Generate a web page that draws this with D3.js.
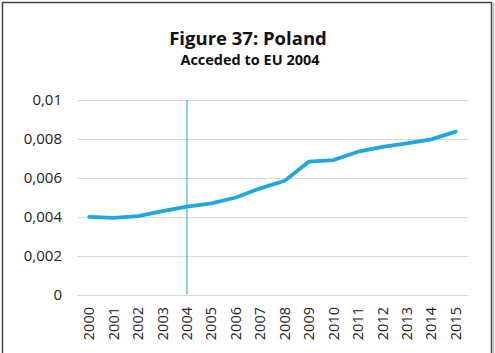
<!DOCTYPE html>
<html>
<head>
<meta charset="utf-8">
<script src="https://cdn.jsdelivr.net/npm/d3@7"></script>
<style>
  body { margin: 0; background: #fff; }
  svg { display: block; }
</style>
</head>
<body>
<svg id="chart" width="495" height="353"></svg>
<script>
// data
var years = ["2000","2001","2002","2003","2004","2005","2006","2007","2008","2009","2010","2011","2012","2013","2014","2015"];
var values = [0.00401, 0.00396, 0.00405, 0.0043, 0.00453, 0.0047, 0.005, 0.00547, 0.00586, 0.00684, 0.00692, 0.00735, 0.0076, 0.00778, 0.00798, 0.00838];
var yTicks = [0, 0.002, 0.004, 0.006, 0.008, 0.01];
var accessionYear = "2004";

var svg = d3.select("#chart"),
  width = +svg.attr("width"),
  height = +svg.attr("height");

var font = "'Open Sans', 'Liberation Sans', sans-serif";

// frame
svg.append("rect")
  .attr("x", 2.5).attr("y", 2.5)
  .attr("width", 489).attr("height", 360)
  .attr("fill", "#fff")
  .attr("stroke", "#444")
  .attr("stroke-width", 1.5);
svg.append("line")
  .attr("x1", 493.5).attr("x2", 493.5)
  .attr("y1", 3).attr("y2", height)
  .attr("stroke", "#bbb").attr("stroke-width", 1.5);

// titles
svg.append("text")
  .attr("x", 248).attr("y", 45)
  .attr("text-anchor", "middle")
  .style("font-family", font)
  .style("font-weight", "bold")
  .style("font-size", "18.5px")
  .style("fill", "#111")
  .text("Figure 37: Poland");
svg.append("text")
  .attr("x", 250).attr("y", 65)
  .attr("text-anchor", "middle")
  .style("font-family", font)
  .style("font-weight", "bold")
  .style("font-size", "14.5px")
  .style("fill", "#111")
  .text("Acceded to EU 2004");

var plot = { left: 77, right: 468, top: 100, bottom: 295 };

var x = d3.scaleBand()
  .domain(years)
  .range([plot.left, plot.right]);

var y = d3.scaleLinear()
  .domain([0, 0.01])
  .range([plot.bottom, plot.top]);

// gridlines
svg.append("g")
  .selectAll("line")
  .data(yTicks)
  .enter().append("line")
  .attr("x1", plot.left).attr("x2", plot.right)
  .attr("y1", function(d){ return Math.round(y(d)) + 0.5 })
  .attr("y2", function(d){ return Math.round(y(d)) + 0.5 })
  .attr("stroke", "#d9d9d9")
  .attr("stroke-width", 1.2);

// y labels
var fmt = function(d){ return d === 0 ? "0" : String(+d.toFixed(3)).replace(".", ","); };
svg.append("g")
  .selectAll("text")
  .data(yTicks)
  .enter().append("text")
  .attr("x", 62)
  .attr("y", function(d){ return y(d) })
  .attr("dy", "0.35em")
  .attr("text-anchor", "end")
  .style("font-family", font)
  .style("font-size", "15px")
  .style("fill", "#222")
  .text(fmt);

// x labels (rotated)
svg.append("g")
  .selectAll("text")
  .data(years)
  .enter().append("text")
  .attr("transform", function(d){
    return "translate(" + (x(d) + x.bandwidth() / 2) + "," + (plot.bottom + 12) + ") rotate(-90)";
  })
  .attr("dy", "0.35em")
  .attr("text-anchor", "end")
  .style("font-family", font)
  .style("font-size", "14.5px")
  .style("fill", "#222")
  .text(function(d){ return d });

// accession marker
var ax = x(accessionYear) + x.bandwidth() / 2;
svg.append("line")
  .attr("x1", ax).attr("x2", ax)
  .attr("y1", plot.top).attr("y2", plot.bottom - 1)
  .attr("stroke", "#1aa3db")
  .attr("stroke-width", 1);

// series line
var line = d3.line()
  .x(function(d, i){ return x(years[i]) + x.bandwidth() / 2 })
  .y(function(d){ return y(d) });

svg.append("path")
  .datum(values)
  .attr("d", line)
  .attr("fill", "none")
  .attr("stroke", "#1ea7e1")
  .attr("stroke-width", 3.8)
  .attr("stroke-linejoin", "round")
  .attr("stroke-linecap", "round");
</script>
</body>
</html>
